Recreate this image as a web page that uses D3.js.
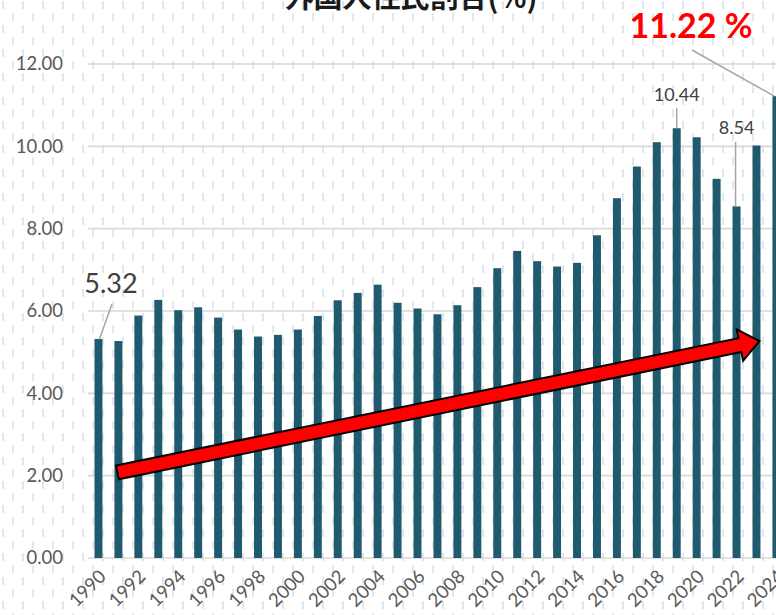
<!DOCTYPE html>
<html>
<head>
<meta charset="utf-8">
<script src="https://cdn.jsdelivr.net/npm/d3@7"></script>
<style>
  body { margin: 0; background: white; }
  svg { display: block; }
</style>
</head>
<body>
<svg id="chart"></svg>
<script>
var years = [1990,1991,1992,1993,1994,1995,1996,1997,1998,1999,
             2000,2001,2002,2003,2004,2005,2006,2007,2008,2009,
             2010,2011,2012,2013,2014,2015,2016,2017,2018,2019,
             2020,2021,2022,2023,2024];
var shares = [5.32,5.27,5.89,6.27,6.02,6.09,5.84,5.55,5.38,5.42,
              5.55,5.88,6.26,6.44,6.64,6.20,6.06,5.92,6.14,6.58,
              7.04,7.46,7.21,7.08,7.17,7.84,8.74,9.51,10.10,10.44,
              10.22,9.21,8.54,10.02,11.22];
var yTicks = [0,2,4,6,8,10,12];
var xTickYears = years.filter(y => y % 2 === 0);
var title = "外国人住民割合(%)";
// trend arrow, in data units: [year, value]
var arrowFrom = [1990.95, 2.08],
    arrowTo = [2023.15, 5.27];

var W = 776, H = 615;
var margin = {top: 64, left: 88, bottom: 57};
var plotH = H - margin.top - margin.bottom;

var svg = d3.select("#chart").attr("width", W).attr("height", H);

// dashed background texture
var defs = svg.append("defs");
var pat = defs.append("pattern")
  .attr("id", "bgdash").attr("patternUnits", "userSpaceOnUse")
  .attr("width", 20).attr("height", 24);
pat.append("rect").attr("width", 20).attr("height", 24).attr("fill", "white");
pat.append("line").attr("x1", 3).attr("x2", 3).attr("y1", 1).attr("y2", 9)
  .attr("stroke", "#d5e1ea").attr("stroke-width", 1.6);
pat.append("line").attr("x1", 13).attr("x2", 13).attr("y1", 13).attr("y2", 21)
  .attr("stroke", "#dde3e3").attr("stroke-width", 1.6);
svg.append("rect").attr("width", W).attr("height", H).attr("fill", "url(#bgdash)");

var x = d3.scaleBand().domain(years)
  .range([margin.left + 0.5, margin.left + 0.5 + 35 * 19.94])
  .paddingInner(0.6).paddingOuter(0.3);
var xc = d3.scaleLinear()
  .domain([1990, 2024])
  .range([x(1990) + x.bandwidth() / 2, x(2024) + x.bandwidth() / 2]);
var y = d3.scaleLinear().domain([0, 12]).range([margin.top + plotH, margin.top]);

// gridlines
svg.append("g").selectAll("line")
  .data(yTicks).enter().append("line")
  .attr("x1", margin.left).attr("x2", W)
  .attr("y1", d => y(d)).attr("y2", d => y(d))
  .attr("stroke", "#d9d9d9").attr("stroke-width", 1.6);

// y axis labels
svg.append("g").selectAll("text")
  .data(yTicks).enter().append("text")
  .attr("x", 63).attr("y", d => y(d)).attr("dy", "0.35em")
  .attr("text-anchor", "end")
  .style("font-family", "Lato, 'Open Sans', sans-serif")
  .style("font-size", "18.5px").style("fill", "#595959")
  .text(d => d.toFixed(2));

// bars
svg.append("g").selectAll("rect")
  .data(years).enter().append("rect")
  .attr("x", d => x(d))
  .attr("y", (d, i) => y(shares[i]))
  .attr("width", x.bandwidth())
  .attr("height", (d, i) => y(0) - y(shares[i]))
  .attr("fill", "#1f5a6f");

// x axis labels
svg.append("g").selectAll("text")
  .data(xTickYears).enter().append("text")
  .attr("transform", d => "translate(" + (xc(d) + 4) + "," + (y(0) + 15) + ") rotate(-45)")
  .attr("text-anchor", "end").attr("dy", "0.35em")
  .style("font-family", "Lato, 'Open Sans', sans-serif")
  .style("font-size", "18.5px").style("fill", "#595959")
  .text(d => d);

// title (cropped at top)
svg.append("text")
  .attr("x", 411).attr("y", 8)
  .attr("text-anchor", "middle")
  .style("font-family", "'Noto Sans CJK JP', sans-serif")
  .style("font-size", "29px").style("font-weight", "bold").style("fill", "#1a1a1a")
  .text(title);

// trend arrow
var p0 = [xc(arrowFrom[0]), y(arrowFrom[1])],
    p1 = [xc(arrowTo[0]), y(arrowTo[1])];
var ang = Math.atan2(p1[1] - p0[1], p1[0] - p0[0]) * 180 / Math.PI;
var len = Math.hypot(p1[0] - p0[0], p1[1] - p0[1]);
var sw = 7, hl = 20, hw = 16;
svg.append("path")
  .attr("transform", "translate(" + p0[0] + "," + p0[1] + ") rotate(" + ang + ")")
  .attr("d", "M0," + (-sw) + "L" + (len - hl) + "," + (-sw) + "L" + (len - hl) + "," + (-hw) +
             "L" + len + ",0L" + (len - hl) + "," + hw + "L" + (len - hl) + "," + sw + "L0," + sw + "Z")
  .attr("fill", "#ff0000").attr("stroke", "#000").attr("stroke-width", 2)
  .attr("stroke-linejoin", "miter");

// data callouts
var callouts = [
  {year: 1990, text: "5.32", size: 27, fill: "#404040", weight: "normal",
   tx: 111, ty: 293, line: [[112, 304], [xc(1990) + 1, y(5.32)]]},
  {year: 2019, text: "10.44", size: 18, fill: "#404040", weight: "normal",
   tx: xc(2019), ty: 101, line: [[xc(2019), 108], [xc(2019), y(10.44)]]},
  {year: 2022, text: "8.54", size: 18, fill: "#404040", weight: "normal",
   tx: xc(2022), ty: 134, line: [[xc(2022) - 1, 142], [xc(2022) - 1, y(8.54)]]},
  {year: 2024, text: "11.22 %", size: 34, fill: "#ff0000", weight: "bold",
   tx: 691, ty: 38, line: [[692, 50], [xc(2024) - 2, y(11.22)]]}
];
var cg = svg.append("g");
callouts.forEach(function(c) {
  cg.append("line")
    .attr("x1", c.line[0][0]).attr("y1", c.line[0][1])
    .attr("x2", c.line[1][0]).attr("y2", c.line[1][1])
    .attr("stroke", "#a6a6a6").attr("stroke-width", 1.5);
  cg.append("text")
    .attr("x", c.tx).attr("y", c.ty).attr("text-anchor", "middle")
    .style("font-family", "Lato, 'Open Sans', sans-serif")
    .style("font-size", c.size + "px").style("font-weight", c.weight)
    .style("fill", c.fill)
    .text(c.text);
});
</script>
</body>
</html>
